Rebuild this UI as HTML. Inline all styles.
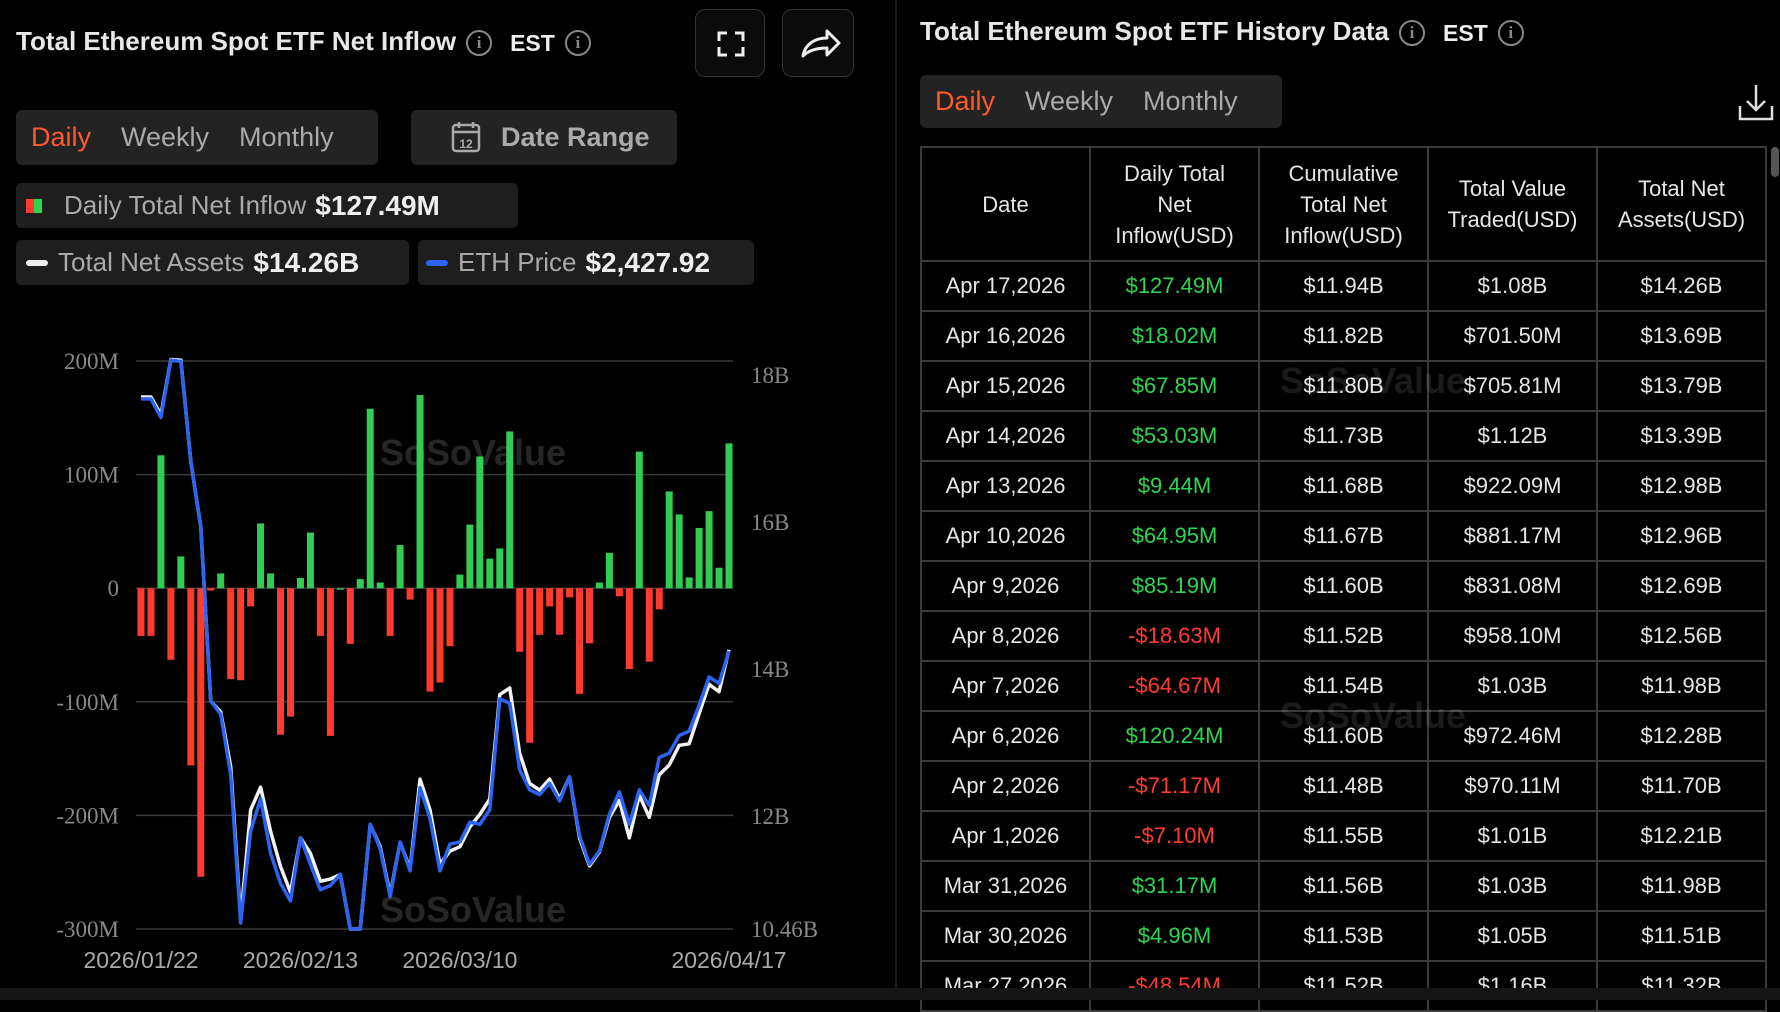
<!DOCTYPE html>
<html><head><meta charset="utf-8"><style>
*{box-sizing:border-box;margin:0;padding:0}
body{width:1780px;height:1000px;background:#000;color:#e6e6e6;font-family:"Liberation Sans",sans-serif;position:relative;overflow:hidden}
.abs{position:absolute}
.title{font-size:26px;font-weight:bold;color:#e8e8e8;white-space:nowrap}
.info{display:inline-block;width:26px;height:26px;border:2px solid #888;border-radius:50%;color:#888;font-size:17px;text-align:center;line-height:22px;vertical-align:middle;margin-left:10px;font-family:"Liberation Serif",serif}
.est{font-size:23px;color:#eee;margin-left:18px;vertical-align:middle}
.tabs{background:#232323;border-radius:6px;display:flex;align-items:center;font-size:27px;color:#aaa}
.tabs span{padding:0 15px}
.tabs .on{color:#ff5a2c}
.btn{border:1.5px solid #333;border-radius:10px;background:#0b0b0b}
.leg{background:#1e1e1e;border-radius:5px;font-size:26px;color:#aaa;display:flex;align-items:center;white-space:nowrap}
.leg b{color:#eee;margin-left:9px;font-size:28px}
table{border-collapse:collapse;font-size:22px;color:#e6e6e6}
td,th{border:2px solid #3a3a3a;text-align:center;font-weight:normal}
th{height:114px;line-height:31px}
td{height:50px}
.g{color:#2fd44f}.r{color:#ff3b30}
</style></head><body>
<div class="abs title" style="left:16px;top:26px">Total Ethereum Spot ETF Net Inflow<span class="info">i</span><span class="est">EST</span><span class="info">i</span></div>
<div class="abs btn" style="left:695px;top:9px;width:70px;height:68px"><svg width="70" height="68"><path d="M23 31v-8h8M39 23h8v8M47 37v8h-8M31 45h-8v-8" stroke="#eee" stroke-width="3" fill="none"/></svg></div>
<div class="abs btn" style="left:782px;top:9px;width:72px;height:68px"><svg width="72" height="68"><path d="M20 46c2-12 12-18 24-18v-7l12 12-12 12v-7c-10 0-18 2-24 8z" stroke="#eee" stroke-width="3" fill="none" stroke-linejoin="round"/></svg></div>
<div class="abs tabs" style="left:16px;top:110px;width:362px;height:55px"><span class="on">Daily</span><span>Weekly</span><span>Monthly</span></div>
<div class="abs tabs" style="left:411px;top:110px;width:266px;height:55px;font-weight:bold;color:#aaa"><svg width="70" height="40" style="margin-left:14px"><rect x="28" y="7" width="26" height="26" rx="3" stroke="#aaa" stroke-width="2.5" fill="none"/><path d="M28 14h26M34 4v6M48 4v6" stroke="#aaa" stroke-width="2.5"/><text x="41" y="30" font-size="12" fill="#aaa" text-anchor="middle">12</text></svg><span style="padding:0 0 0 6px">Date Range</span></div>
<div class="abs leg" style="left:16px;top:183px;width:502px;height:45px"><span style="display:inline-block;width:8px;height:14px;background:#ff3b30;margin-left:10px"></span><span style="display:inline-block;width:8px;height:14px;background:#2fd44f;margin-right:22px"></span>Daily Total Net Inflow<b>$127.49M</b></div>
<div class="abs leg" style="left:16px;top:240px;width:393px;height:45px"><span style="display:inline-block;width:22px;height:6px;border-radius:3px;background:#eee;margin:0 10px 0 10px"></span>Total Net Assets<b>$14.26B</b></div>
<div class="abs leg" style="left:418px;top:240px;width:336px;height:45px"><span style="display:inline-block;width:22px;height:6px;border-radius:3px;background:#2c63f0;margin:0 10px 0 8px"></span>ETH Price<b>$2,427.92</b></div>

<svg class="abs" id="chart" style="left:0;top:300px" width="890" height="690"></svg>
<div class="abs" style="left:895px;top:0;width:2px;height:988px;background:#1c1c1c"></div>

<div class="abs title" style="left:920px;top:16px">Total Ethereum Spot ETF History Data<span class="info">i</span><span class="est">EST</span><span class="info">i</span></div>
<div class="abs tabs" style="left:920px;top:75px;width:362px;height:53px"><span class="on">Daily</span><span>Weekly</span><span>Monthly</span></div>
<svg class="abs" style="left:1738px;top:82px" width="36" height="40"><path d="M18 3v24M9 19l9 9 9-9M2 24v13h32V24" stroke="#ddd" stroke-width="2.5" fill="none"/></svg>
<div class="abs" style="left:1771px;top:147px;width:8px;height:30px;border-radius:4px;background:#555"></div>
<table class="abs" style="left:920px;top:146px;width:847px;table-layout:fixed">
<thead><tr><th>Date</th><th>Daily Total<br>Net<br>Inflow(USD)</th><th>Cumulative<br>Total Net<br>Inflow(USD)</th><th>Total Value<br>Traded(USD)</th><th>Total Net<br>Assets(USD)</th></tr></thead>
<tbody>
<tr><td>Apr 17,2026</td><td class="g">$127.49M</td><td>$11.94B</td><td>$1.08B</td><td>$14.26B</td></tr>
<tr><td>Apr 16,2026</td><td class="g">$18.02M</td><td>$11.82B</td><td>$701.50M</td><td>$13.69B</td></tr>
<tr><td>Apr 15,2026</td><td class="g">$67.85M</td><td>$11.80B</td><td>$705.81M</td><td>$13.79B</td></tr>
<tr><td>Apr 14,2026</td><td class="g">$53.03M</td><td>$11.73B</td><td>$1.12B</td><td>$13.39B</td></tr>
<tr><td>Apr 13,2026</td><td class="g">$9.44M</td><td>$11.68B</td><td>$922.09M</td><td>$12.98B</td></tr>
<tr><td>Apr 10,2026</td><td class="g">$64.95M</td><td>$11.67B</td><td>$881.17M</td><td>$12.96B</td></tr>
<tr><td>Apr 9,2026</td><td class="g">$85.19M</td><td>$11.60B</td><td>$831.08M</td><td>$12.69B</td></tr>
<tr><td>Apr 8,2026</td><td class="r">-$18.63M</td><td>$11.52B</td><td>$958.10M</td><td>$12.56B</td></tr>
<tr><td>Apr 7,2026</td><td class="r">-$64.67M</td><td>$11.54B</td><td>$1.03B</td><td>$11.98B</td></tr>
<tr><td>Apr 6,2026</td><td class="g">$120.24M</td><td>$11.60B</td><td>$972.46M</td><td>$12.28B</td></tr>
<tr><td>Apr 2,2026</td><td class="r">-$71.17M</td><td>$11.48B</td><td>$970.11M</td><td>$11.70B</td></tr>
<tr><td>Apr 1,2026</td><td class="r">-$7.10M</td><td>$11.55B</td><td>$1.01B</td><td>$12.21B</td></tr>
<tr><td>Mar 31,2026</td><td class="g">$31.17M</td><td>$11.56B</td><td>$1.03B</td><td>$11.98B</td></tr>
<tr><td>Mar 30,2026</td><td class="g">$4.96M</td><td>$11.53B</td><td>$1.05B</td><td>$11.51B</td></tr>
<tr><td>Mar 27,2026</td><td class="r">-$48.54M</td><td>$11.52B</td><td>$1.16B</td><td>$11.32B</td></tr>
</tbody></table>
<div class="abs" style="left:1280px;top:360px;font-size:36px;font-weight:bold;color:#fff;opacity:0.1">SoSoValue</div>
<div class="abs" style="left:1280px;top:695px;font-size:36px;font-weight:bold;color:#fff;opacity:0.1">SoSoValue</div>
<div class="abs" style="left:0;top:988px;width:1780px;height:12px;background:#151515"></div>

<script>
const inflows=[-42,-42,117,-63,28,-156,-254,-2,13,-80,-81,-16,57,13,-129,-113,9,49,-42,-130,0,-49,8,158,5,-42,38,-10,170,-91,-83,-51,12,56,116,26,35,138,-56,-136,-41,-16,-41,-8,-93,-48.54,4.96,31.17,-7.10,-71.17,120.24,-64.67,-18.63,85.19,64.95,9.44,53.03,67.85,18.02,127.49];
const netAssets=[17.70,17.70,17.46,18.21,18.20,16.82,15.93,13.56,13.41,12.67,10.60,12.08,12.39,11.79,11.31,10.96,11.70,11.49,11.11,11.14,11.20,10.46,10.46,11.88,11.58,10.93,11.64,11.28,12.50,12.08,11.34,11.52,11.58,11.85,12.02,12.23,13.65,13.74,12.85,12.44,12.35,12.50,12.23,12.53,11.70,11.32,11.51,11.98,12.21,11.70,12.28,11.98,12.56,12.69,12.96,12.98,13.39,13.79,13.69,14.26];
const ethPrice=[3013,3013,2970,3103,3100,2868,2716,2312,2281,2141,1797,2010,2085,1959,1889,1848,1995,1933,1874,1884,1910,1783,1783,2026,1969,1858,1985,1918,2111,2039,1918,1980,1985,2031,2026,2060,2317,2307,2152,2106,2095,2121,2080,2136,2000,1933,1964,2049,2101,2026,2106,2070,2181,2191,2232,2242,2302,2368,2353,2428];
const leftTicks=[200,100,0,-100,-200,-300];
const leftLabels=["200M","100M","0","-100M","-200M","-300M"];
const rightTicks=[18,16,14,12,10.46];
const rightLabels=["18B","16B","14B","12B","10.46B"];
const xLabelIdx=[0,16,32,59];
const xLabels=["2026/01/22","2026/02/13","2026/03/10","2026/04/17"];

const svg=document.getElementById('chart');
const NS='http://www.w3.org/2000/svg';
const OY=300;
const plotL=136,plotR=733,plotT=361-OY,plotB=929-OY;
const x0=141,x1=729;
const xs=i=>x0+(x1-x0)*i/(inflows.length-1);
const yL=v=>plotT+(200-v)/500*(plotB-plotT);
const rMin=10.46,rMax=18.19;
const yR=v=>plotT+(rMax-v)/(rMax-rMin)*(plotB-plotT);
const pMin=1783,pMax=3101;
const yP=v=>plotT+(pMax-v)/(pMax-pMin)*(plotB-plotT);
function el(t,a,txt){const e=document.createElementNS(NS,t);for(const k in a)e.setAttribute(k,a[k]);if(txt!==undefined)e.textContent=txt;svg.appendChild(e);return e;}
leftTicks.forEach((t,i)=>{
  const g=el('line',{x1:plotL,x2:plotR,y1:yL(t),y2:yL(t),stroke:'#3a3a3a','stroke-width':1.5});
  
  
  const l=el('text',{x:119,y:yL(t)+8,'text-anchor':'end','font-size':23,fill:'#888','font-family':'Liberation Serif,serif'},leftLabels[i]);
  
  
});
rightTicks.forEach((t,i)=>{
  const l=el('text',{x:751,y:yR(t)+8,'font-size':23,fill:'#888','font-family':'Liberation Serif,serif'},rightLabels[i]);
  
  
});
const wm=el('text',{x:380,y:165,'font-size':36,'font-weight':'bold',fill:'#262626','font-family':'Liberation Sans,sans-serif'},'SoSoValue');


const wm2=el('text',{x:380,y:622,'font-size':36,'font-weight':'bold',fill:'#262626','font-family':'Liberation Sans,sans-serif'},'SoSoValue');


inflows.forEach((v,i)=>{
  const y0=yL(0),y=yL(v);
  const b=el('rect',{x:xs(i)-3.5,y:Math.min(y0,y),width:7,height:Math.max(1.5,Math.abs(y-y0)),fill:v>=0?'#33cc52':'#ff3b30'});
  
  
});
const wl=el('polyline',{points:netAssets.map((v,i)=>xs(i)+','+yR(v)).join(' '),fill:'none',stroke:'#f2f2f2','stroke-width':3.5,'stroke-linejoin':'round'});


const bl=el('polyline',{points:ethPrice.map((v,i)=>xs(i)+','+yP(v)).join(' '),fill:'none',stroke:'#2c63f0','stroke-width':3.5,'stroke-linejoin':'round'});


xLabelIdx.forEach((idx,i)=>{
  const l=el('text',{x:xs(idx),y:668,'text-anchor':'middle','font-size':23,fill:'#aaa','font-family':'Liberation Sans,sans-serif'},xLabels[i]);
  
  
});
</script>
</body></html>
